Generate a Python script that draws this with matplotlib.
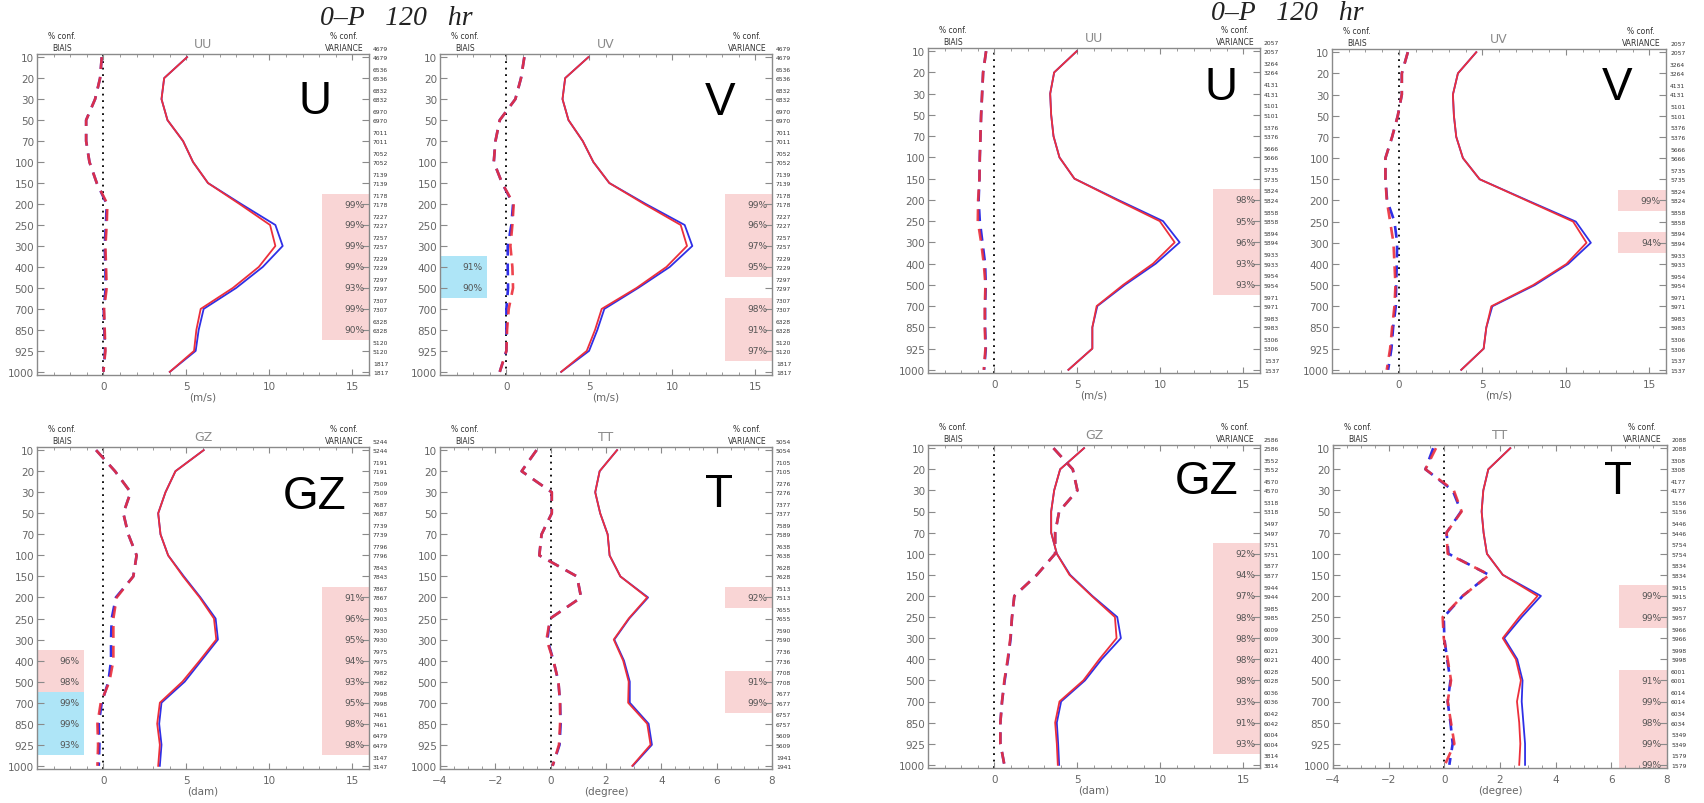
import numpy as np
import matplotlib
matplotlib.use("Agg")
import matplotlib.pyplot as plt
from matplotlib.patches import Rectangle
from matplotlib.ticker import MultipleLocator
import matplotlib.transforms as mtransforms

W, H = 1704, 804

levels = [10, 20, 30, 50, 70, 100, 150, 200, 250, 300, 400, 500, 700, 850, 925, 1000]

# ---------------- left group ----------------
l_uu_std_red = [5.04, 3.66, 3.5, 3.86, 4.8, 5.4, 6.3, 8.2, 10.04, 10.36, 9.36, 7.8, 5.86, 5.6, 5.46, 4.0]
l_uu_std_blue = [5.04, 3.66, 3.5, 3.86, 4.8, 5.4, 6.3, 8.3, 10.36, 10.8, 9.6, 8.0, 6.04, 5.74, 5.56, 4.0]
l_uu_bias_red = [-0.1, -0.2, -0.5, -1.04, -1.04, -0.84, -0.4, 0.24, 0.2, 0.12, 0.16, 0.2, 0.04, 0.08, 0.12, 0.0]
l_uu_bias_blue = [-0.1, -0.2, -0.5, -1.04, -1.04, -0.84, -0.4, 0.2, 0.15, 0.08, 0.12, 0.14, 0.02, 0.06, 0.1, 0.0]
l_uu_counts = [4679, 6536, 6832, 6970, 7011, 7052, 7139, 7178, 7227, 7257, 7229, 7297, 7307, 6328, 5120, 1817]
l_uu_var_conf = [None, None, None, None, None, None, None, 99, 99, 99, 99, 93, 99, 90, None, None]
l_uu_bias_conf = [None] * 16
l_uu_bias_sign = [0] * 16

l_uv_std_red = [4.94, 3.54, 3.38, 3.74, 4.6, 5.24, 6.2, 8.3, 10.5, 10.88, 9.64, 7.84, 5.74, 5.34, 4.84, 3.3]
l_uv_std_blue = [4.94, 3.54, 3.38, 3.74, 4.6, 5.24, 6.2, 8.4, 10.74, 11.2, 9.84, 7.94, 5.9, 5.48, 4.98, 3.3]
l_uv_bias_red = [1.08, 0.88, 0.54, -0.4, -0.66, -0.76, -0.26, 0.44, 0.36, 0.24, 0.36, 0.4, 0.14, 0.04, 0.0, -0.4]
l_uv_bias_blue = [1.08, 0.88, 0.54, -0.4, -0.66, -0.76, -0.26, 0.4, 0.3, 0.08, 0.08, 0.1, 0.0, 0.0, 0.0, -0.4]
l_uv_counts = l_uu_counts
l_uv_var_conf = [None, None, None, None, None, None, None, 99, 96, 97, 95, None, 98, 91, 97, None]
l_uv_bias_conf = [None] * 10 + [91, 90] + [None] * 4
l_uv_bias_sign = [0] * 10 + [-1, -1] + [0] * 4

l_gz_std_red = [6.04, 4.34, 3.74, 3.3, 3.44, 3.9, 4.8, 5.8, 6.66, 6.8, 5.8, 4.76, 3.4, 3.24, 3.4, 3.3]
l_gz_std_blue = [6.04, 4.34, 3.74, 3.3, 3.44, 3.9, 4.85, 5.85, 6.76, 6.9, 5.9, 4.9, 3.5, 3.36, 3.5, 3.4]
l_gz_bias_red = [-0.44, 0.7, 1.64, 1.2, 1.5, 2.0, 1.8, 0.8, 0.6, 0.6, 0.6, 0.36, -0.16, -0.36, -0.32, -0.36]
l_gz_bias_blue = [-0.44, 0.7, 1.64, 1.2, 1.5, 2.0, 1.8, 0.75, 0.5, 0.46, 0.46, 0.3, -0.1, -0.28, -0.24, -0.28]
l_gz_counts = [5244, 7191, 7509, 7687, 7739, 7796, 7843, 7867, 7903, 7930, 7975, 7982, 7998, 7461, 6479, 3147]
l_gz_var_conf = [None, None, None, None, None, None, None, 91, 96, 95, 94, 93, 95, 98, 98, None]
l_gz_bias_conf = [None] * 10 + [96, 98, 99, 99, 93] + [None]
l_gz_bias_sign = [0] * 10 + [1, 1, -1, -1, -1] + [0]

l_tt_std_red = [2.4, 1.77, 1.61, 1.79, 2.06, 2.13, 2.52, 3.49, 2.82, 2.28, 2.62, 2.82, 2.8, 3.49, 3.61, 2.95]
l_tt_std_blue = [2.4, 1.77, 1.61, 1.79, 2.06, 2.13, 2.52, 3.52, 2.84, 2.3, 2.65, 2.86, 2.86, 3.54, 3.66, 2.97]
l_tt_bias_red = [-0.51, -1.05, 0.04, 0.04, -0.33, -0.41, 0.95, 1.1, -0.02, -0.15, 0.1, 0.28, 0.34, 0.34, 0.3, 0.07]
l_tt_bias_blue = [-0.51, -1.05, 0.04, 0.04, -0.33, -0.41, 0.95, 1.1, -0.02, -0.12, 0.1, 0.28, 0.34, 0.36, 0.32, 0.07]
l_tt_counts = [5054, 7105, 7276, 7377, 7589, 7638, 7628, 7513, 7655, 7590, 7736, 7708, 7677, 6757, 5609, 1941]
l_tt_var_conf = [None] * 7 + [92] + [None] * 3 + [91, 99] + [None] * 3
l_tt_bias_conf = [None] * 16
l_tt_bias_sign = [0] * 16

# ---------------- right group ----------------
r_uu_std_red = [4.96, 3.6, 3.36, 3.42, 3.56, 3.92, 4.82, 7.36, 9.96, 10.86, 9.56, 7.76, 6.16, 5.9, 5.9, 4.46]
r_uu_std_blue = [4.96, 3.6, 3.36, 3.42, 3.56, 3.92, 4.82, 7.45, 10.16, 11.16, 9.72, 7.86, 6.2, 5.9, 5.9, 4.46]
r_uu_bias_red = [-0.5, -0.68, -0.74, -0.8, -0.84, -0.88, -0.9, -0.98, -1.0, -0.8, -0.64, -0.54, -0.58, -0.58, -0.54, -0.64]
r_uu_bias_blue = [-0.5, -0.68, -0.74, -0.8, -0.84, -0.88, -0.9, -0.95, -0.88, -0.72, -0.56, -0.52, -0.56, -0.56, -0.52, -0.62]
r_uu_counts = [2057, 3264, 4131, 5101, 5376, 5666, 5735, 5824, 5858, 5894, 5933, 5954, 5971, 5983, 5306, 1537]
r_uu_var_conf = [None] * 7 + [98, 95, 96, 93, 93] + [None] * 4
r_uu_bias_conf = [None] * 16
r_uu_bias_sign = [0] * 16

r_uv_std_red = [4.64, 3.54, 3.24, 3.3, 3.44, 3.84, 4.84, 7.64, 10.44, 11.24, 10.04, 8.04, 5.54, 5.24, 5.08, 3.74]
r_uv_std_blue = [4.64, 3.54, 3.24, 3.3, 3.44, 3.84, 4.84, 7.7, 10.6, 11.5, 10.14, 8.14, 5.6, 5.24, 5.08, 3.74]
r_uv_bias_red = [0.54, 0.18, 0.18, -0.06, -0.4, -0.8, -0.8, -0.72, -0.52, -0.32, -0.26, -0.2, -0.26, -0.4, -0.52, -0.72]
r_uv_bias_blue = [0.54, 0.18, 0.18, -0.06, -0.4, -0.8, -0.8, -0.7, -0.26, -0.1, -0.12, -0.16, -0.18, -0.34, -0.44, -0.64]
r_uv_counts = r_uu_counts
r_uv_var_conf = [None] * 7 + [99, None, 94] + [None] * 6
r_uv_bias_conf = [None] * 16
r_uv_bias_sign = [0] * 16

r_gz_std_red = [5.4, 3.96, 3.6, 3.42, 3.42, 3.76, 4.52, 5.86, 7.26, 7.36, 6.32, 5.36, 3.92, 3.66, 3.76, 3.82]
r_gz_std_blue = [5.4, 3.96, 3.6, 3.42, 3.42, 3.76, 4.56, 5.9, 7.4, 7.62, 6.46, 5.46, 4.02, 3.76, 3.84, 3.9]
r_gz_bias_red = [3.56, 4.72, 5.0, 3.9, 3.66, 3.66, 2.56, 1.2, 1.06, 0.96, 0.8, 0.6, 0.46, 0.36, 0.36, 0.6]
r_gz_bias_blue = [3.56, 4.72, 5.0, 3.9, 3.66, 3.66, 2.56, 1.2, 1.06, 0.98, 0.82, 0.62, 0.46, 0.36, 0.36, 0.6]
r_gz_counts = [2586, 3552, 4570, 5318, 5497, 5751, 5877, 5944, 5985, 6009, 6021, 6028, 6036, 6042, 6004, 3814]
r_gz_var_conf = [None] * 5 + [92, 94, 97, 98, 98, 98, 98, 93, 91, 93] + [None]
r_gz_bias_conf = [None] * 16
r_gz_bias_sign = [0] * 16

r_tt_std_red = [2.37, 1.58, 1.4, 1.34, 1.41, 1.53, 2.1, 3.35, 2.69, 2.1, 2.57, 2.75, 2.61, 2.69, 2.73, 2.69]
r_tt_std_blue = [2.37, 1.58, 1.4, 1.34, 1.41, 1.53, 2.1, 3.47, 2.78, 2.15, 2.62, 2.81, 2.78, 2.84, 2.9, 2.9]
r_tt_bias_red = [-0.3, -0.68, 0.34, 0.62, 0.08, 0.12, 1.62, 0.66, -0.06, -0.02, 0.12, 0.24, 0.12, 0.24, 0.36, 0.02]
r_tt_bias_blue = [-0.4, -0.68, 0.3, 0.6, 0.08, 0.15, 1.6, 0.66, -0.02, 0.0, 0.1, 0.22, 0.12, 0.22, 0.3, 0.18]
r_tt_counts = [2088, 3308, 4177, 5156, 5446, 5754, 5834, 5915, 5957, 5966, 5998, 6001, 6014, 6034, 5349, 1579]
r_tt_var_conf = [None] * 7 + [99, 99, None, None, 91, 99, 98, 99, 99]
r_tt_bias_conf = [None] * 16
r_tt_bias_sign = [0] * 16

panel_names = ["UU", "UV", "GZ", "TT"]
panel_units = ["(m/s)", "(m/s)", "(dam)", "(degree)"]
panel_letters = ["U", "V", "GZ", "T"]
group_title = "0\u2013P   120   hr"

# ---------------- styles / layout ----------------
RED = "#ec2f3b"
BLUE = "#2f2fe6"
PINK = "#f9d5d5"
CYAN = "#aee5f7"
FRAME = "#8a8a8a"
TXT = "#666666"

fig = plt.figure(figsize=(W / 100, H / 100), dpi=100)
fig.patch.set_facecolor("white")


def rect(l, r, t, b):
    return [l / W, 1 - b / H, (r - l) / W, (b - t) / H]


def runs(conf, sign=None):
    out = []
    i = 0
    while i < len(conf):
        if conf[i] is None:
            i += 1
            continue
        j = i
        s = sign[i] if sign is not None else 1
        while j + 1 < len(conf) and conf[j + 1] is not None and (sign is None or sign[j + 1] == s):
            j += 1
        out.append((i, j, s))
        i = j + 1
    return out


def draw_panel(ax, kind, std_red, std_blue, bias_red, bias_blue, counts,
               var_conf, bias_conf, bias_sign, letter_pos, letter):
    y = np.arange(len(levels))
    trans = mtransforms.blended_transform_factory(ax.transAxes, ax.transData)
    bw = 0.143
    # confidence boxes
    for (i0, i1, s) in runs(var_conf):
        ax.add_patch(Rectangle((1 - bw, i0 - 0.5), bw, i1 - i0 + 1, transform=trans,
                               facecolor=PINK, edgecolor="none", zorder=0))
    for (i0, i1, s) in runs(bias_conf, bias_sign):
        ax.add_patch(Rectangle((0, i0 - 0.5), bw, i1 - i0 + 1, transform=trans,
                               facecolor=PINK if s > 0 else CYAN, edgecolor="none", zorder=0))
    for i, v in enumerate(var_conf):
        if v is not None:
            ax.text(0.985, i, f"{v}%", transform=trans, ha="right", va="center",
                    fontsize=6.5, color="#555555", zorder=3)
    for i, v in enumerate(bias_conf):
        if v is not None:
            ax.text(0.128, i, f"{v}%", transform=trans, ha="right", va="center",
                    fontsize=6.5, color="#555555", zorder=3)

    ax.axvline(0, color="black", ls=(0, (1, 2.6)), lw=1.3, zorder=1)
    ax.plot(std_blue, y, color=BLUE, lw=1.3, zorder=2)
    ax.plot(std_red, y, color=RED, lw=1.3, zorder=2)
    ax.plot(bias_blue, y, color=BLUE, lw=1.9, ls=(0, (4.5, 3)), zorder=2)
    ax.plot(bias_red, y, color=RED, lw=1.9, ls=(0, (4.5, 3)), zorder=2, alpha=0.9)

    ax.set_ylim(15.15, -0.15)
    ax.set_yticks(y)
    ax.set_yticklabels([str(l) for l in levels])
    if kind == "TT":
        ax.set_xlim(-4, 8)
        ax.xaxis.set_major_locator(MultipleLocator(2))
        ax.xaxis.set_minor_locator(MultipleLocator(0.5))
    else:
        ax.set_xlim(-4, 16)
        ax.xaxis.set_major_locator(MultipleLocator(5))
        ax.xaxis.set_minor_locator(MultipleLocator(1))
    ax.tick_params(axis="both", which="both", direction="in", colors=FRAME,
                   labelcolor=TXT, top=True, right=True, labelsize=7.5)
    ax.tick_params(axis="y", which="major", length=5, pad=2)
    ax.tick_params(axis="x", which="major", length=4, pad=4)
    ax.tick_params(axis="x", which="minor", length=2.5)
    for sp in ax.spines.values():
        sp.set_color(FRAME)
        sp.set_linewidth(1.0)

    # counts on right
    for i, c in enumerate(counts):
        ax.text(1.012, i - 0.42, str(c), transform=trans, ha="left", va="center",
                fontsize=4.3, color="#333333", clip_on=False)
        ax.text(1.012, i + 0.02, str(c), transform=trans, ha="left", va="center",
                fontsize=4.3, color="#333333", clip_on=False)

    # header labels
    ax.annotate(kind, xy=(0.5, 1), xycoords="axes fraction", xytext=(0, 7.5),
                textcoords="offset points", ha="center", va="center",
                fontsize=9, color="#8a8a8a")
    ax.annotate("% conf.", xy=(0.075, 1), xycoords="axes fraction", xytext=(0, 13),
                textcoords="offset points", ha="center", va="center",
                fontsize=5.5, color="#333333")
    ax.annotate("BIAIS", xy=(0.075, 1), xycoords="axes fraction", xytext=(0, 4.5),
                textcoords="offset points", ha="center", va="center",
                fontsize=5.5, color="#333333")
    ax.annotate("% conf.", xy=(0.925, 1), xycoords="axes fraction", xytext=(0, 13),
                textcoords="offset points", ha="center", va="center",
                fontsize=5.5, color="#333333")
    ax.annotate("VARIANCE", xy=(0.925, 1), xycoords="axes fraction", xytext=(0, 4.5),
                textcoords="offset points", ha="center", va="center",
                fontsize=5.5, color="#333333")
    unit = panel_units[panel_names.index(kind)]
    ax.set_xlabel(unit, fontsize=7.5, color=TXT, labelpad=1)

    fig.text(letter_pos[0] / W, 1 - letter_pos[1] / H, letter, ha="center", va="center",
             fontsize=33, color="black", family="Liberation Sans")


specs = [
    ((37, 369, 55, 376), "UU", l_uu_std_red, l_uu_std_blue, l_uu_bias_red, l_uu_bias_blue, l_uu_counts,
     l_uu_var_conf, l_uu_bias_conf, l_uu_bias_sign, (315, 102)),
    ((440, 772, 55, 376), "UV", l_uv_std_red, l_uv_std_blue, l_uv_bias_red, l_uv_bias_blue, l_uv_counts,
     l_uv_var_conf, l_uv_bias_conf, l_uv_bias_sign, (720, 103)),
    ((37, 369, 448, 770), "GZ", l_gz_std_red, l_gz_std_blue, l_gz_bias_red, l_gz_bias_blue, l_gz_counts,
     l_gz_var_conf, l_gz_bias_conf, l_gz_bias_sign, (315, 497)),
    ((440, 772, 448, 770), "TT", l_tt_std_red, l_tt_std_blue, l_tt_bias_red, l_tt_bias_blue, l_tt_counts,
     l_tt_var_conf, l_tt_bias_conf, l_tt_bias_sign, (719, 495)),
    ((928, 1260, 49, 374), "UU", r_uu_std_red, r_uu_std_blue, r_uu_bias_red, r_uu_bias_blue, r_uu_counts,
     r_uu_var_conf, r_uu_bias_conf, r_uu_bias_sign, (1221, 88)),
    ((1332, 1666, 50, 374), "UV", r_uv_std_red, r_uv_std_blue, r_uv_bias_red, r_uv_bias_blue, r_uv_counts,
     r_uv_var_conf, r_uv_bias_conf, r_uv_bias_sign, (1617, 88)),
    ((928, 1260, 446, 769), "GZ", r_gz_std_red, r_gz_std_blue, r_gz_bias_red, r_gz_bias_blue, r_gz_counts,
     r_gz_var_conf, r_gz_bias_conf, r_gz_bias_sign, (1207, 482)),
    ((1333, 1667, 446, 769), "TT", r_tt_std_red, r_tt_std_blue, r_tt_bias_red, r_tt_bias_blue, r_tt_counts,
     r_tt_var_conf, r_tt_bias_conf, r_tt_bias_sign, (1618, 482)),
]

for (box, kind, sr, sb, br, bb, cnt, vc, bc, bs, lp) in specs:
    ax = fig.add_axes(rect(*box))
    draw_panel(ax, kind, sr, sb, br, bb, cnt, vc, bc, bs, lp,
               panel_letters[panel_names.index(kind)])

fig.text(396 / W, 1 - 25 / H, group_title, ha="center", va="baseline", fontsize=20,
         style="italic", family="Liberation Serif", color="#222222")
fig.text(1287 / W, 1 - 20 / H, group_title, ha="center", va="baseline", fontsize=20,
         style="italic", family="Liberation Serif", color="#222222")

fig.savefig("out.png", dpi=100, facecolor="white")
